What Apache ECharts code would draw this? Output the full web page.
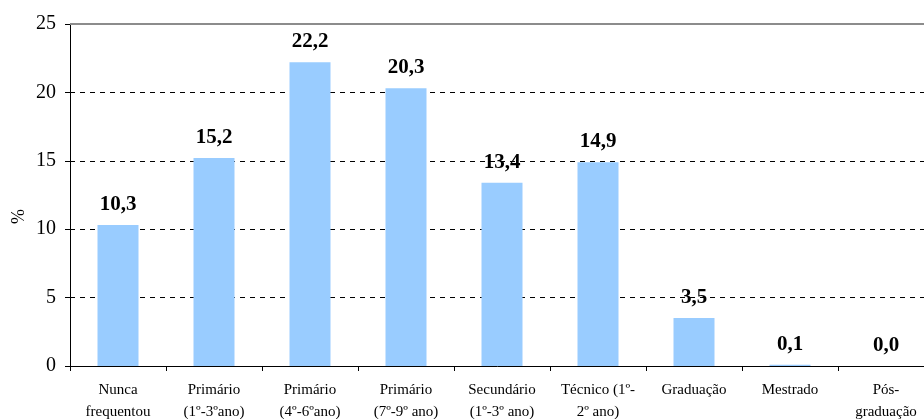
<!DOCTYPE html>
<html style="height: 100%">
<head>
<meta charset="utf-8">
<script src="https://cdn.jsdelivr.net/npm/echarts@6/dist/echarts.min.js"></script>
</head>
<body style="height: 100%; margin: 0; background: #fff">
<div id="container" style="width: 924px; height: 419px"></div>
<script>
// categories and values
var categories = ['Nunca\nfrequentou', 'Primário\n(1º-3ºano)', 'Primário\n(4º-6ºano)', 'Primário\n(7º-9º ano)',
    'Secundário\n(1º-3º ano)', 'Técnico (1º-\n2º ano)', 'Graduação', 'Mestrado', 'Pós-\ngraduação'];
var values = [10.3, 15.2, 22.2, 20.3, 13.4, 14.9, 3.5, 0.1, 0.0];
var yTicks = [0, 5, 10, 15, 20, 25];

var serif = '"Liberation Serif", "DejaVu Serif", serif';

var myChart = echarts.init(document.getElementById('container'));

var option = {
    animation: false,
    grid: { left: 70, top: 24, bottom: 53, right: -10, outerBoundsMode: 'none', containLabel: false },
    graphic: [{
        type: 'text',
        x: 10, y: 224,
        rotation: Math.PI / 2,
        style: { text: '%', fill: '#000', font: '18px ' + serif }
    }],
    xAxis: {
        type: 'category',
        data: categories,
        axisLine: { lineStyle: { color: '#000', width: 1 } },
        axisTick: { show: true, length: 5, lineStyle: { color: '#000' } },
        axisLabel: {
            color: '#000', fontFamily: serif, fontSize: 15,
            lineHeight: 22, margin: 13, interval: 0
        }
    },
    yAxis: {
        type: 'value',
        min: yTicks[0],
        max: yTicks[yTicks.length - 1],
        interval: 5,
        axisLine: { show: true, lineStyle: { color: '#000', width: 1 } },
        axisTick: { show: true, length: 5, lineStyle: { color: '#000' } },
        axisLabel: { color: '#000', fontFamily: serif, fontSize: 20, margin: 14 },
        splitLine: { show: true, lineStyle: { color: '#000', type: [5, 5], width: 1 } }
    },
    series: [{
        type: 'bar',
        data: values,
        barWidth: 41,
        itemStyle: { color: '#99CCFF' },
        label: {
            show: true,
            position: 'top',
            distance: 10,
            color: '#000',
            fontFamily: serif,
            fontWeight: 'bold',
            fontSize: 21,
            formatter: function (p) { return p.value.toFixed(1).replace('.', ','); }
        },
        markLine: {
            silent: true,
            symbol: 'none',
            label: { show: false },
            lineStyle: { color: '#8c8c8c', type: 'solid', width: 2 },
            data: [{ yAxis: 25 }]
        }
    }]
};

myChart.setOption(option);
</script>
</body>
</html>
